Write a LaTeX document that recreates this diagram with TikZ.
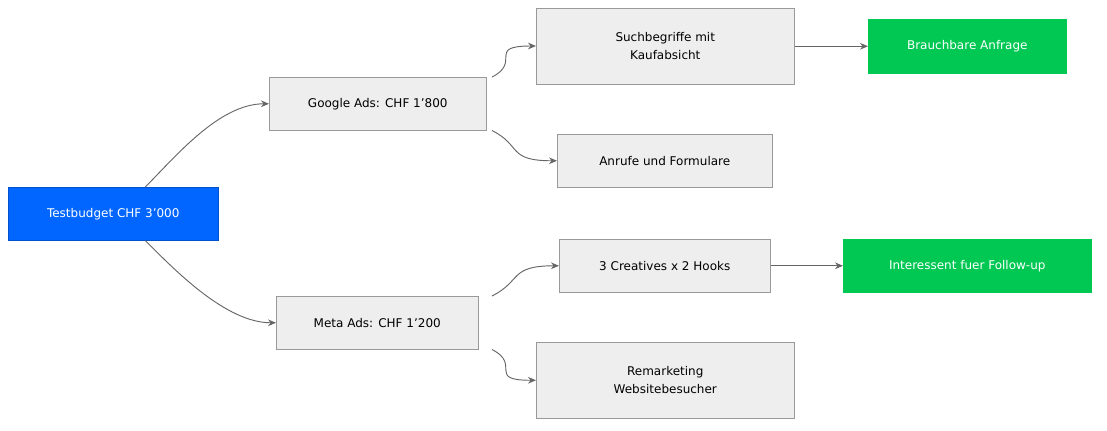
\documentclass[tikz,border=0pt]{standalone}
\usepackage{fontspec}
\setmainfont{DejaVu Sans}
\usetikzlibrary{arrows.meta}
\definecolor{blu}{HTML}{0066FF}
\definecolor{grn}{HTML}{00C853}
\definecolor{gfill}{HTML}{EEEEEE}
\definecolor{gline}{HTML}{999999}
\definecolor{edge}{HTML}{666666}
\begin{document}
\begin{tikzpicture}[x=0.75pt,y=-0.75pt,
  box/.style={draw=gline,fill=gfill,font=\fontsize{9}{13.5}\selectfont,align=center,inner sep=0,anchor=north west},
  blue/.style={box,fill=blu,draw=blu!80!black,text=white},
  green/.style={box,fill=grn,draw=grn,text=white},
  e/.style={draw=edge,line width=0.7pt,-{Stealth[length=6pt,width=5pt]}}]
\useasboundingbox (0,0) rectangle (1107,430);
\node[blue,minimum width=210*0.75pt,minimum height=53*0.75pt] (tb) at (8,187) {Testbudget CHF 3'000};
\node[box,minimum width=217*0.75pt,minimum height=53*0.75pt] (g) at (269,77) {Google Ads: CHF 1'800};
\node[box,minimum width=202*0.75pt,minimum height=53*0.75pt] (m) at (276,296) {Meta Ads: CHF 1'200};
\node[box,minimum width=258*0.75pt,minimum height=76*0.75pt] (s) at (536,8) {Suchbegriffe mit\\Kaufabsicht};
\node[box,minimum width=215*0.75pt,minimum height=53*0.75pt] (a) at (557,134) {Anrufe und Formulare};
\node[box,minimum width=211*0.75pt,minimum height=53*0.75pt] (c) at (559,239) {3 Creatives x 2 Hooks};
\node[box,minimum width=258*0.75pt,minimum height=76*0.75pt] (r) at (536,342) {Remarketing\\Websitebesucher};
\node[green,minimum width=198*0.75pt,minimum height=54*0.75pt] (b) at (868,19) {Brauchbare Anfrage};
\node[green,minimum width=248*0.75pt,minimum height=53*0.75pt] (i) at (843,239) {Interessent fuer Follow-up};
\draw[e] ([xshift=24pt]tb.north) .. controls +(30,-30) and +(-50,0) .. (g.west);
\draw[e] ([xshift=24pt]tb.south) .. controls +(30,30) and +(-50,0) .. (m.west);
\draw[e] ([xshift=-33pt]s.south west |- g.north) .. controls +(30,-15) and +(-50,0) .. ([yshift=-0pt]s.west |- 0,46);
\draw[e] ([xshift=-33pt]s.south west |- g.south) .. controls +(30,15) and +(-50,0) .. (a.west);
\draw[e] ([xshift=-33pt]s.south west |- m.north) .. controls +(30,-15) and +(-50,0) .. (c.west);
\draw[e] ([xshift=-33pt]s.south west |- m.south) .. controls +(30,15) and +(-50,0) .. (r.west);
\draw[e] (s.east |- b.west) -- (b.west);
\draw[e] (c.east) -- (i.west);
\end{tikzpicture}
\end{document}
